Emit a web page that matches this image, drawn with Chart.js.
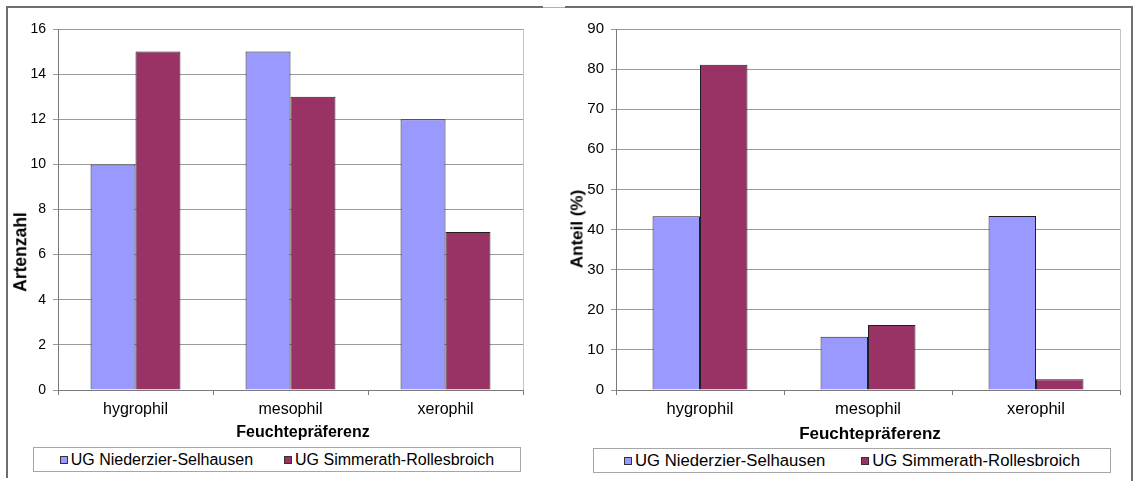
<!DOCTYPE html>
<html lang="de">
<head>
<meta charset="utf-8">
<title>Feuchtepräferenz</title>
<script src="https://cdn.jsdelivr.net/npm/chart.js@4.4.1/dist/chart.umd.min.js"></script>
<style>
  html, body { margin: 0; padding: 0; background: #fff; }
  body { width: 1136px; height: 481px; position: relative; overflow: hidden;
         font-family: "Liberation Sans", Arial, sans-serif; color: #000; }
  .line { position: absolute; background: #6e6e6e; }
  .panel { position: absolute; top: 0; }
  .axis-title { position: absolute; font-weight: bold; white-space: nowrap;
                line-height: 1; transform: translate(-50%, -50%); }
  .axis-title.vertical { transform: translate(-50%, -50%) rotate(-90deg); }
  .legend { position: absolute; box-sizing: border-box; border: 1px solid #a6a6a6;
            display: flex; align-items: center; justify-content: center;
            background: #fff; }
  .legend .item { display: flex; align-items: center; white-space: nowrap; }
  .legend .swatch { width: 8px; height: 8px; box-sizing: border-box;
                    border: 1px solid #333; margin-right: 3px; }
</style>
</head>
<body>
  <!-- page frame -->
  <div class="line" style="left:6px;top:6px;width:537px;height:2px"></div>
  <div class="line" style="left:543px;top:7px;width:22px;height:1px;background:#b0b0b0"></div>
  <div class="line" style="left:565px;top:6px;width:568px;height:2px"></div>
  <div class="line" style="left:6px;top:6px;width:2px;height:472px"></div>
  <div class="line" style="left:1131px;top:6px;width:2px;height:475px"></div>

  <canvas id="countChart" class="panel" style="left:0" width="560" height="481"></canvas>
  <canvas id="shareChart" class="panel" style="left:560px" width="576" height="481"></canvas>

  <!-- axis titles -->
  <div class="axis-title vertical" style="left:21px;top:252px;font-size:17.5px">Artenzahl</div>
  <div class="axis-title" style="left:303px;top:432px;font-size:16px">Feuchtepräferenz</div>
  <div class="axis-title vertical" style="left:577px;top:229px;font-size:17px">Anteil (%)</div>
  <div class="axis-title" style="left:870px;top:433px;font-size:17px">Feuchtepräferenz</div>

  <div id="countLegend" class="legend" style="left:33px;top:447px;width:488px;height:25px;font-size:16px;gap:31px"></div>
  <div id="shareLegend" class="legend" style="left:593px;top:448px;width:518px;height:25px;font-size:16.7px;gap:36px"></div>

<script>
// Feuchtepräferenz der Arten in den beiden Untersuchungsgebieten
const categories = ['hygrophil', 'mesophil', 'xerophil'];
const seriesNames = ['UG Niederzier-Selhausen', 'UG Simmerath-Rollesbroich'];
const seriesColors = ['#9999FF', '#993366'];

// Artenzahl je Kategorie
const niederzierCounts = [10, 15, 12];
const simmerathCounts = [15, 13, 7];

// Anteil (%) je Kategorie
const niederzierShare = [43.3, 13.3, 43.4];
const simmerathShare = [81.1, 16.2, 2.7];

// y-axis ranges
const countAxis = { max: 16, step: 2 };
const shareAxis = { max: 90, step: 10 };

const FONT = '"Liberation Sans", Arial, sans-serif';
const GRID = '#9a9a9a';
const AXIS = '#7a7a7a';

// thin light border along the right edge of the plot area
const plotEdge = {
  id: 'plotEdge',
  beforeDatasetsDraw(chart) {
    const { ctx, chartArea: { top, bottom, right } } = chart;
    ctx.save();
    ctx.strokeStyle = '#c4c4c4';
    ctx.lineWidth = 1;
    ctx.beginPath();
    ctx.moveTo(Math.round(right) + 0.5, top);
    ctx.lineTo(Math.round(right) + 0.5, bottom);
    ctx.stroke();
    ctx.restore();
  }
};

function makeChart(canvasId, valuesA, valuesB, axis, cfg) {
  const datasets = [valuesA, valuesB].map((vals, i) => ({
    label: seriesNames[i],
    data: vals,
    backgroundColor: seriesColors[i],
    borderColor: '#202020',
    borderWidth: 1,
    borderSkipped: 'bottom',
    categoryPercentage: cfg.groupWidth,
    barPercentage: 1.0
  }));

  return new Chart(document.getElementById(canvasId), {
    type: 'bar',
    data: { labels: categories, datasets },
    plugins: [plotEdge],
    options: {
      responsive: false,
      maintainAspectRatio: false,
      animation: false,
      devicePixelRatio: 1,
      layout: { padding: { left: 0, right: cfg.padRight, top: 29, bottom: 39 } },
      plugins: { legend: { display: false }, tooltip: { enabled: false } },
      scales: {
        x: {
          offset: true,
          grid: { offset: true, drawOnChartArea: false, drawTicks: true, tickLength: 5, color: AXIS },
          border: { color: AXIS, width: 1 },
          ticks: { color: '#000', padding: 5, font: { family: FONT, size: cfg.xFont } },
          afterFit(scale) { scale.height = 52; }
        },
        y: {
          min: 0, max: axis.max,
          grid: { color: GRID, tickLength: 5, drawTicks: true },
          border: { color: AXIS, width: 1 },
          ticks: { stepSize: axis.step, color: '#000', padding: 7, font: { family: FONT, size: cfg.yFont } },
          afterFit(scale) { scale.width = cfg.axisWidth; }
        }
      }
    }
  });
}

function buildLegend(id) {
  const box = document.getElementById(id);
  seriesNames.forEach((name, i) => {
    const item = document.createElement('span');
    item.className = 'item';
    const sw = document.createElement('span');
    sw.className = 'swatch';
    sw.style.background = seriesColors[i];
    const txt = document.createElement('span');
    txt.textContent = name;
    item.appendChild(sw);
    item.appendChild(txt);
    box.appendChild(item);
  });
}

makeChart('countChart', niederzierCounts, simmerathCounts, countAxis,
  { groupWidth: 0.58, padRight: 37, axisWidth: 58, xFont: 16, yFont: 14 });
makeChart('shareChart', niederzierShare, simmerathShare, shareAxis,
  { groupWidth: 0.565, padRight: 16, axisWidth: 56, xFont: 16.5, yFont: 15 });

buildLegend('countLegend');
buildLegend('shareLegend');
</script>
</body>
</html>
